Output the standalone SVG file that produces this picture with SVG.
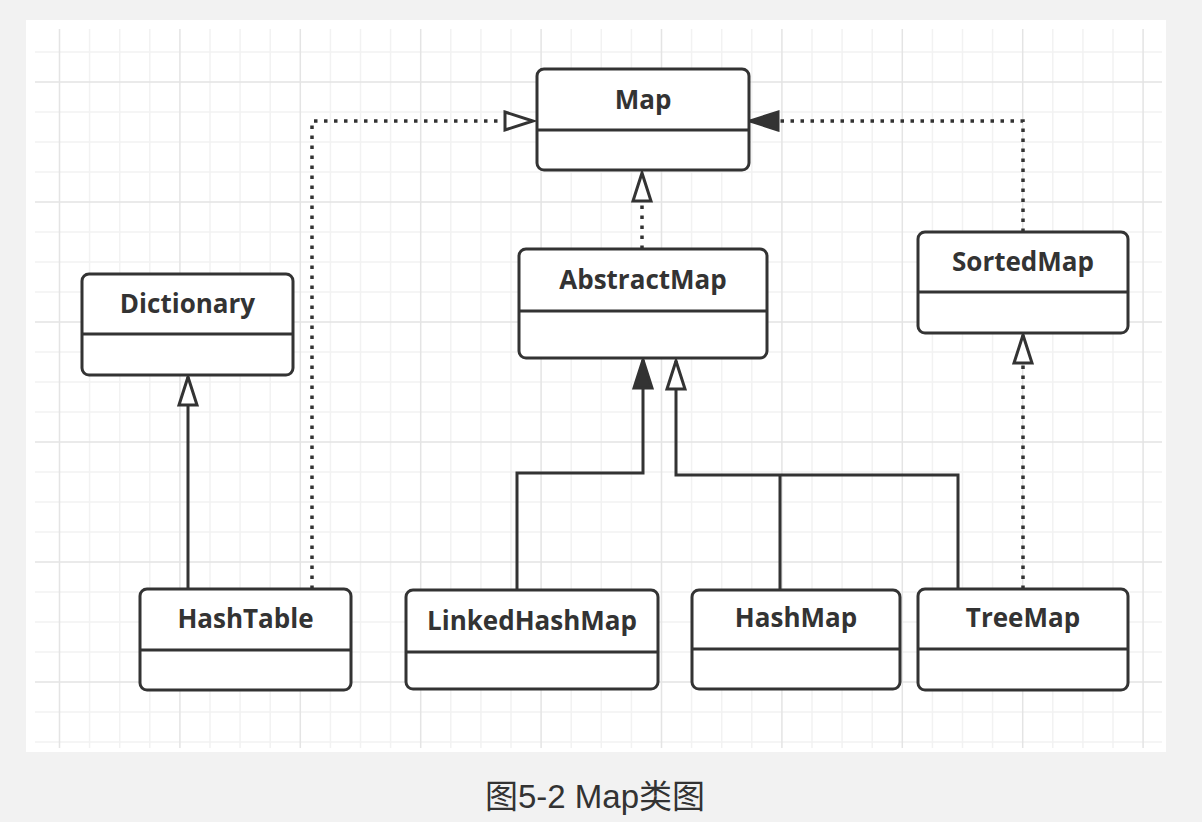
<svg xmlns="http://www.w3.org/2000/svg" width="1202" height="822" viewBox="0 0 1202 822">
<style>
.bg{fill:#f2f2f2}
.panel{fill:#ffffff}
.gmin{stroke:#f2f2f2;stroke-width:1.5;fill:none}
.gmaj{stroke:#e4e4e4;stroke-width:1.5;fill:none}
.box{fill:#ffffff;stroke:#333333;stroke-width:3}
.div{stroke:#333333;stroke-width:3}
.lbl{font-family:"Open Sans","Noto Sans","Liberation Sans",sans-serif;font-weight:bold;font-size:26px;fill:#333333;text-anchor:middle}
.solid{fill:none;stroke:#333333;stroke-width:3}
.dot{fill:none;stroke:#333333;stroke-width:3.5;stroke-dasharray:3.5 6.5}
.cap{font-family:"Liberation Sans","Noto Sans CJK SC",sans-serif;font-size:33px;fill:#333333;text-anchor:middle}
</style>
<defs>
<marker id="open" markerUnits="userSpaceOnUse" markerWidth="34" markerHeight="24" refX="30" refY="11" orient="auto" overflow="visible">
<path d="M2,2 L30,11 L2,20 Z" fill="#ffffff" stroke="#333333" stroke-width="3" stroke-linejoin="miter"/>
</marker>
<marker id="filled" markerUnits="userSpaceOnUse" markerWidth="34" markerHeight="24" refX="30" refY="11" orient="auto" overflow="visible">
<path d="M2,2 L30,11 L2,20 Z" fill="#333333" stroke="#333333" stroke-width="3"/>
</marker>
</defs>
<rect class="bg" x="0" y="0" width="1202" height="822"/>
<rect class="panel" x="26" y="20" width="1140" height="732"/>
<g id="grid">
<path class="gmin" d="M89.6,29V748M119.7,29V748M149.8,29V748M210,29V748M240.1,29V748M270.2,29V748M330.4,29V748M360.5,29V748M390.6,29V748M450.8,29V748M480.9,29V748M511,29V748M571.2,29V748M601.3,29V748M631.4,29V748M691.6,29V748M721.7,29V748M751.8,29V748M812,29V748M842.1,29V748M872.2,29V748M932.4,29V748M962.5,29V748M992.6,29V748M1052.8,29V748M1082.9,29V748M1113,29V748
M35,52H1162M35,112H1162M35,142H1162M35,172H1162M35,232H1162M35,262H1162M35,292H1162M35,352H1162M35,382H1162M35,412H1162M35,472H1162M35,502H1162M35,532H1162M35,592H1162M35,622H1162M35,652H1162M35,712H1162M35,742H1162"/>
<path class="gmaj" d="M59.5,29V748M179.9,29V748M300.3,29V748M420.7,29V748M541.1,29V748M661.5,29V748M781.9,29V748M902.3,29V748M1022.7,29V748M1143.1,29V748
M35,82H1162M35,202H1162M35,322H1162M35,442H1162M35,562H1162M35,682H1162"/>
</g>
<g id="connectors">
<path class="dot" d="M312,589V121H533" marker-end="url(#open)"/>
<path class="dot" d="M1023,232V121H750" marker-end="url(#filled)"/>
<path class="dot" d="M642,249V173" marker-end="url(#open)"/>
<path class="dot" d="M1023,589V335" marker-end="url(#open)"/>
<path class="solid" d="M188,589V377" marker-end="url(#open)"/>
<path class="solid" d="M517,590V473H643V360" marker-end="url(#filled)"/>
<path class="solid" d="M958,589V475H676V361" marker-end="url(#open)"/>
<path class="solid" d="M780,590V475"/>
</g>
<g id="Map">
<rect class="box" x="537" y="69" width="212" height="101" rx="7"/>
<line class="div" x1="537" y1="130" x2="749" y2="130"/>
<text class="lbl" x="643" y="108.5">Map</text>
</g>
<g id="AbstractMap">
<rect class="box" x="519" y="249" width="248" height="109" rx="7"/>
<line class="div" x1="519" y1="311" x2="767" y2="311"/>
<text class="lbl" x="643" y="289">AbstractMap</text>
</g>
<g id="Dictionary">
<rect class="box" x="82" y="274" width="211" height="101" rx="7"/>
<line class="div" x1="82" y1="334" x2="293" y2="334"/>
<text class="lbl" x="187.5" y="313">Dictionary</text>
</g>
<g id="SortedMap">
<rect class="box" x="918" y="232" width="210" height="101" rx="7"/>
<line class="div" x1="918" y1="292" x2="1128" y2="292"/>
<text class="lbl" x="1023" y="271">SortedMap</text>
</g>
<g id="HashTable">
<rect class="box" x="140" y="589" width="211" height="101" rx="7"/>
<line class="div" x1="140" y1="650" x2="351" y2="650"/>
<text class="lbl" x="245.5" y="628">HashTable</text>
</g>
<g id="LinkedHashMap">
<rect class="box" x="406" y="590" width="252" height="99" rx="7"/>
<line class="div" x1="406" y1="652" x2="658" y2="652"/>
<text class="lbl" x="532" y="630">LinkedHashMap</text>
</g>
<g id="HashMap">
<rect class="box" x="692" y="590" width="208" height="99" rx="7"/>
<line class="div" x1="692" y1="649" x2="900" y2="649"/>
<text class="lbl" x="796" y="627">HashMap</text>
</g>
<g id="TreeMap">
<rect class="box" x="918" y="589" width="210" height="101" rx="7"/>
<line class="div" x1="918" y1="649" x2="1128" y2="649"/>
<text class="lbl" x="1023" y="627">TreeMap</text>
</g>
<text class="cap" x="595" y="808">图5-2 Map类图</text>
</svg>
